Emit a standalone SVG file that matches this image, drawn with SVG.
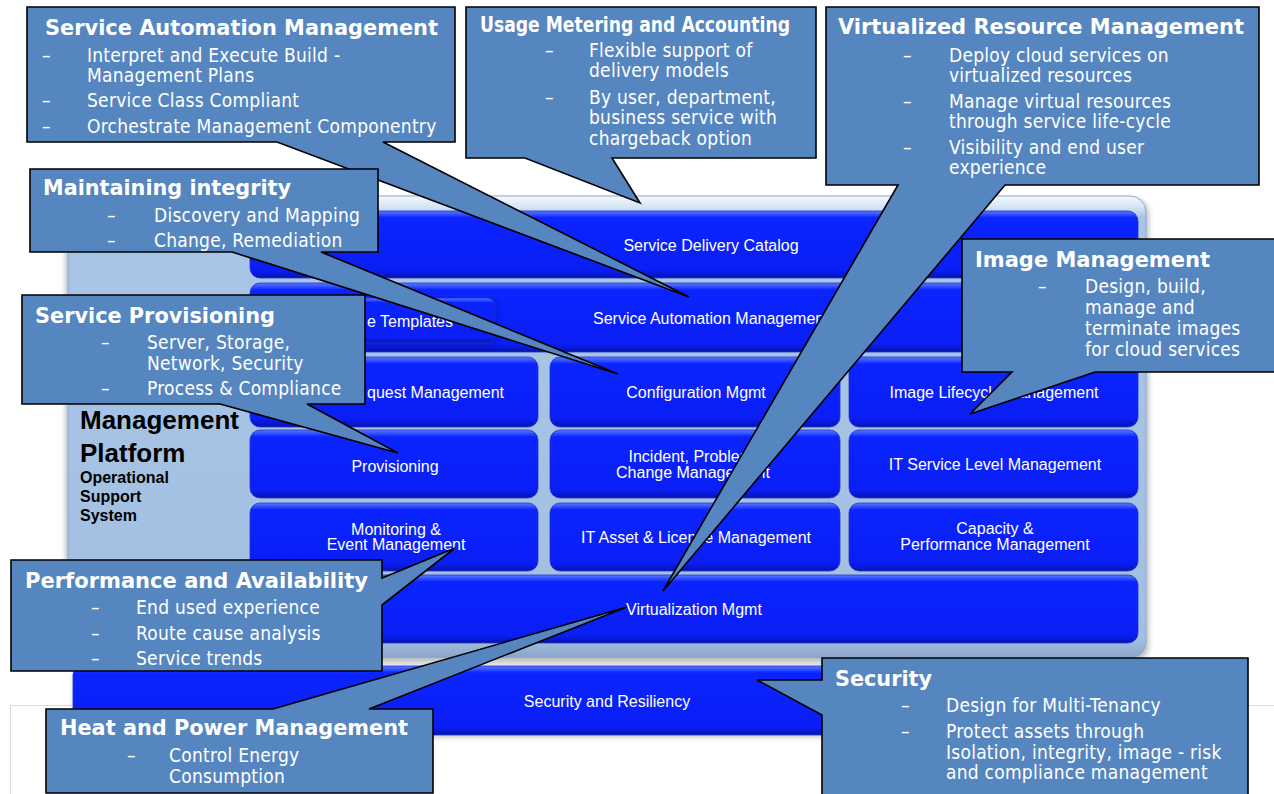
<svg xmlns="http://www.w3.org/2000/svg" width="1274" height="794" viewBox="0 0 1274 794">
<defs>
<style>
.co{fill:#5686c0;stroke:#000;stroke-width:1.6;stroke-linejoin:miter}
.ti{font-family:"DejaVu Sans Condensed","DejaVu Sans",sans-serif;font-stretch:condensed;font-weight:bold;fill:#fff;font-size:21px}
.bt{font-family:"DejaVu Sans Condensed","DejaVu Sans",sans-serif;font-stretch:condensed;fill:#fff;font-size:19px;letter-spacing:0.25px}
.tl{font-family:"Liberation Sans",Arial,sans-serif;font-size:16px;fill:#fff}
.m{text-anchor:middle}
.s{text-anchor:start}
.e{text-anchor:end}
.tile{fill:url(#tg);stroke:#2233c8;stroke-width:0.8}
.lb{font-family:"Liberation Sans",Arial,sans-serif;font-weight:bold;fill:#000}
</style>
<linearGradient id="tg" x1="0" y1="0" x2="0" y2="1">
<stop offset="0" stop-color="#5a78ff"/>
<stop offset="0.05" stop-color="#3352ff"/>
<stop offset="0.1" stop-color="#0b24ff"/>
<stop offset="0.88" stop-color="#0a1ef5"/>
<stop offset="0.96" stop-color="#0717cc"/>
<stop offset="1" stop-color="#0b159a"/>
</linearGradient>
<linearGradient id="fg" x1="0" y1="0" x2="0" y2="1">
<stop offset="0" stop-color="#f4f8fd"/>
<stop offset="0.025" stop-color="#d3e3f4"/>
<stop offset="0.045" stop-color="#a8c5e6"/>
<stop offset="0.96" stop-color="#a3c0e2"/>
<stop offset="0.985" stop-color="#93afd3"/>
<stop offset="1" stop-color="#8aa4c6"/>
</linearGradient>
<linearGradient id="sg" x1="0" y1="0" x2="0" y2="1">
<stop offset="0" stop-color="#b8bcc4"/>
<stop offset="1" stop-color="#f4f4f4"/>
</linearGradient>
<filter id="sh" x="-5%" y="-5%" width="110%" height="115%">
<feGaussianBlur stdDeviation="2.5"/>
</filter>
</defs>
<rect x="0" y="0" width="1274" height="794" fill="#fff"/>
<rect x="10.5" y="705.5" width="1300" height="120" fill="none" stroke="#dcdcdc" stroke-width="1"/>

<g id="platform">
<rect x="65" y="198" width="1084" height="464" rx="16" fill="#7f8a99" opacity="0.5" filter="url(#sh)"/>
<rect x="68" y="196" width="1078" height="462" rx="16" fill="url(#fg)" stroke="#90aacd" stroke-width="1"/>
<rect x="70" y="658" width="1076" height="9" fill="url(#sg)"/>
<text class="lb" x="80" y="429" font-size="26">Management</text>
<text class="lb" x="80" y="462" font-size="26">Platform</text>
<text class="lb" x="80" y="483" font-size="16">Operational</text>
<text class="lb" x="80" y="502" font-size="16">Support</text>
<text class="lb" x="80" y="521" font-size="16">System</text>
</g>

<g id="tile-catalog"><rect class="tile" x="250" y="211" width="888" height="67" rx="10"/><text class="tl m" x="711" y="251">Service Delivery Catalog</text></g>
<g id="tile-automation"><rect class="tile" x="250" y="283" width="888" height="69" rx="10"/><text class="tl s" x="593" y="324">Service Automation Management</text></g>
<g id="tile-templates"><rect x="264" y="300" width="233" height="45" rx="8" fill="#0a1890" opacity="0.5" filter="url(#sh)"/><rect class="tile" x="262" y="298" width="233" height="45" rx="8"/><text class="tl e" x="453" y="327">e Templates</text></g>
<g id="tile-request"><rect class="tile" x="250" y="357" width="288" height="70" rx="10"/><text class="tl e" x="504" y="398">quest Management</text></g>
<g id="tile-config"><rect class="tile" x="550" y="357" width="290" height="70" rx="10"/><text class="tl m" x="696" y="398">Configuration Mgmt</text></g>
<g id="tile-image"><rect class="tile" x="849" y="357" width="289" height="70" rx="10"/><text class="tl m" x="994" y="398">Image Lifecycle Management</text></g>
<g id="tile-provisioning"><rect class="tile" x="250" y="430" width="288" height="68" rx="10"/><text class="tl m" x="395" y="472">Provisioning</text></g>
<g id="tile-incident"><rect class="tile" x="550" y="430" width="290" height="68" rx="10"/><text class="tl m" x="693" y="462">Incident, Problem,</text><text class="tl m" x="693" y="478">Change Management</text></g>
<g id="tile-slm"><rect class="tile" x="849" y="430" width="289" height="68" rx="10"/><text class="tl m" x="995" y="470">IT Service Level Management</text></g>
<g id="tile-monitoring"><rect class="tile" x="250" y="503" width="288" height="68" rx="10"/><text class="tl m" x="396" y="535">Monitoring &amp;</text><text class="tl m" x="396" y="550">Event Management</text></g>
<g id="tile-asset"><rect class="tile" x="550" y="503" width="290" height="68" rx="10"/><text class="tl m" x="696" y="543">IT Asset &amp; License Management</text></g>
<g id="tile-capacity"><rect class="tile" x="849" y="503" width="289" height="68" rx="10"/><text class="tl m" x="995" y="534">Capacity &amp;</text><text class="tl m" x="995" y="550">Performance Management</text></g>
<g id="tile-virtualization"><rect class="tile" x="250" y="575" width="888" height="68" rx="10"/><text class="tl m" x="694" y="615">Virtualization Mgmt</text></g>
<g id="tile-security"><rect x="73" y="669" width="1073" height="69" rx="9" fill="#888" opacity="0.4" filter="url(#sh)"/><rect class="tile" x="73" y="666" width="1073" height="69" rx="9"/><text class="tl m" x="607" y="707">Security and Resiliency</text></g>

<g id="connectors"></g>

<g id="callout-sam">
<path class="co" d="M27,7 H455 V142 H383 L689,297 L277,142 H27 Z"/>
<text class="ti" x="45" y="35" font-size="22" textLength="393" lengthAdjust="spacingAndGlyphs">Service Automation Management</text>
<text class="bt" x="42" y="62">–</text><text class="bt" x="87" y="62">Interpret and Execute Build -</text>
<text class="bt" x="87" y="82">Management Plans</text>
<text class="bt" x="42" y="107">–</text><text class="bt" x="87" y="107">Service Class Compliant</text>
<text class="bt" x="42" y="133">–</text><text class="bt" x="87" y="133">Orchestrate Management Componentry</text>
</g>

<g id="callout-usage">
<path class="co" d="M466,7 H816 V158 H612 L640,203 L525,158 H466 Z"/>
<text class="ti" x="480" y="32" font-size="18" textLength="310" lengthAdjust="spacingAndGlyphs">Usage Metering and Accounting</text>
<text class="bt" x="545" y="57">–</text><text class="bt" x="589" y="57">Flexible support of</text>
<text class="bt" x="589" y="77">delivery models</text>
<text class="bt" x="545" y="104">–</text><text class="bt" x="589" y="104">By user, department,</text>
<text class="bt" x="589" y="124">business service with</text>
<text class="bt" x="589" y="145">chargeback option</text>
</g>

<g id="callout-vrm">
<path class="co" d="M826,7 H1259 V185 H1005 L663,591 L898,185 H826 Z"/>
<text class="ti" x="838" y="34" font-size="22" textLength="406" lengthAdjust="spacingAndGlyphs">Virtualized Resource Management</text>
<text class="bt" x="903" y="62">–</text><text class="bt" x="949" y="62">Deploy cloud services on</text>
<text class="bt" x="949" y="82">virtualized resources</text>
<text class="bt" x="903" y="108">–</text><text class="bt" x="949" y="108">Manage virtual resources</text>
<text class="bt" x="949" y="128">through service life-cycle</text>
<text class="bt" x="903" y="154">–</text><text class="bt" x="949" y="154">Visibility and end user</text>
<text class="bt" x="949" y="174">experience</text>
</g>

<g id="callout-integrity">
<path class="co" d="M30,169 H378 V252 H321 L618,374 L232,252 H30 Z"/>
<text class="ti" x="43" y="195" textLength="248" lengthAdjust="spacingAndGlyphs">Maintaining integrity</text>
<text class="bt" x="107" y="222">–</text><text class="bt" x="154" y="222">Discovery and Mapping</text>
<text class="bt" x="107" y="247">–</text><text class="bt" x="154" y="247">Change, Remediation</text>
</g>

<g id="callout-provisioning">
<path class="co" d="M22,295 H365 V404 H307 L398,453 L220,404 H22 Z"/>
<text class="ti" x="35" y="323" textLength="240" lengthAdjust="spacingAndGlyphs">Service Provisioning</text>
<text class="bt" x="101" y="349">–</text><text class="bt" x="147" y="349">Server, Storage,</text>
<text class="bt" x="147" y="370">Network, Security</text>
<text class="bt" x="101" y="395">–</text><text class="bt" x="147" y="395">Process &amp; Compliance</text>
</g>

<g id="callout-performance">
<path class="co" d="M11,560 H382 V578 L455,548 L382,605 V671 H11 Z"/>
<text class="ti" x="25" y="588" textLength="343" lengthAdjust="spacingAndGlyphs">Performance and Availability</text>
<text class="bt" x="91" y="614">–</text><text class="bt" x="136" y="614">End used experience</text>
<text class="bt" x="91" y="640">–</text><text class="bt" x="136" y="640">Route cause analysis</text>
<text class="bt" x="91" y="665">–</text><text class="bt" x="136" y="665">Service trends</text>
</g>

<g id="callout-heat">
<path class="co" d="M46,709 H273 L627,607 L369,709 H433 V793 H46 Z"/>
<text class="ti" x="60" y="735" textLength="348" lengthAdjust="spacingAndGlyphs">Heat and Power Management</text>
<text class="bt" x="127" y="762">–</text><text class="bt" x="169" y="762">Control Energy</text>
<text class="bt" x="169" y="783">Consumption</text>
</g>

<g id="callout-image">
<path class="co" d="M962,239 H1285 V372 H1095 L970,414 L1012,372 H962 Z"/>
<text class="ti" x="975" y="267" textLength="235" lengthAdjust="spacingAndGlyphs">Image Management</text>
<text class="bt" x="1038" y="293">–</text><text class="bt" x="1085" y="293">Design, build,</text>
<text class="bt" x="1085" y="314">manage and</text>
<text class="bt" x="1085" y="335">terminate images</text>
<text class="bt" x="1085" y="356">for cloud services</text>
</g>

<g id="callout-security">
<path class="co" d="M822,658 H1248 V800 H822 V715 L757,680 H822 Z"/>
<text class="ti" x="835" y="686" textLength="97" lengthAdjust="spacingAndGlyphs">Security</text>
<text class="bt" x="901" y="712">–</text><text class="bt" x="946" y="712">Design for Multi-Tenancy</text>
<text class="bt" x="901" y="738">–</text><text class="bt" x="946" y="738">Protect assets through</text>
<text class="bt" x="946" y="759">Isolation, integrity, image - risk</text>
<text class="bt" x="946" y="779">and compliance management</text>
</g>
</svg>
